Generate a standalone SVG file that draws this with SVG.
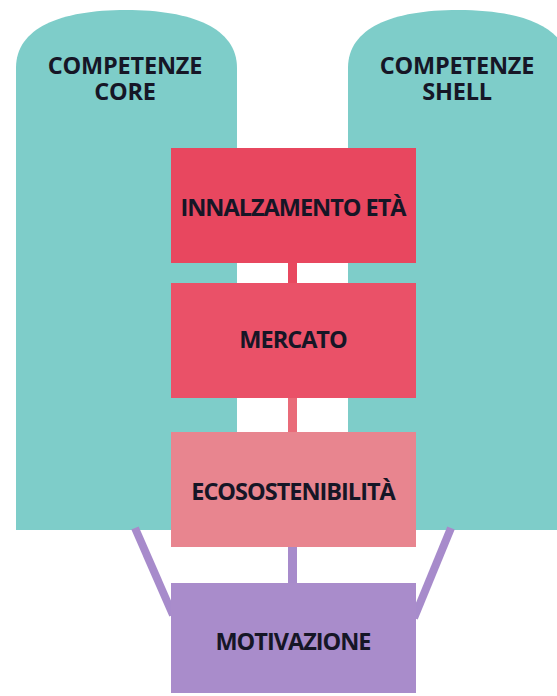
<svg xmlns="http://www.w3.org/2000/svg" width="557" height="696" viewBox="0 0 557 696">
<style>
.pillar{fill:#7ECDC9}
.t{font-family:"Open Sans","Liberation Sans",sans-serif;font-weight:bold;fill:#161626;text-anchor:middle}
.h{font-size:23.5px;letter-spacing:-0.2px}
.b{font-size:23.5px;letter-spacing:-1px}
</style>
<rect width="557" height="696" fill="#FFFFFF"/>
<g id="competenze-core">
<path class="pillar" d="M16,530 V68 C16,28 60,10 126,10 C192,10 237,28 237,68 V530 Z"/>
<text class="t h" x="125" y="74"><tspan x="125" y="74">COMPETENZE</tspan><tspan x="125" y="100">CORE</tspan></text>
</g>
<g id="competenze-shell">
<path class="pillar" d="M348,530 V68 C348,28 392,10 458,10 C524,10 569,28 569,68 V530 Z"/>
<text class="t h" x="457" y="74"><tspan x="457" y="74">COMPETENZE</tspan><tspan x="457" y="100">SHELL</tspan></text>
</g>
<g id="connectors">
<rect x="288" y="262" width="9" height="22" fill="#E8485F"/>
<rect x="288" y="397" width="9" height="37" fill="#E96B79"/>
<rect x="288" y="546" width="9" height="38" fill="#A78BCB"/>
<line x1="135" y1="528" x2="173" y2="615" stroke="#A78BCB" stroke-width="8"/>
<line x1="451" y1="528" x2="414" y2="618" stroke="#A78BCB" stroke-width="8"/>
</g>
<g id="innalzamento-eta">
<rect x="171" y="148" width="245" height="115" fill="#E8475F"/>
<text class="t b" x="293" y="216">INNALZAMENTO ETÀ</text>
</g>
<g id="mercato">
<rect x="171" y="283" width="245" height="115" fill="#EA5168"/>
<text class="t b" x="293" y="348">MERCATO</text>
</g>
<g id="ecosostenibilita">
<rect x="171" y="432" width="245" height="115" fill="#E8858F"/>
<text class="t b" x="293" y="500">ECOSOSTENIBILITÀ</text>
</g>
<g id="motivazione">
<rect x="171" y="583" width="245" height="110" fill="#A98CCB"/>
<text class="t b" x="293" y="650">MOTIVAZIONE</text>
</g>
</svg>
